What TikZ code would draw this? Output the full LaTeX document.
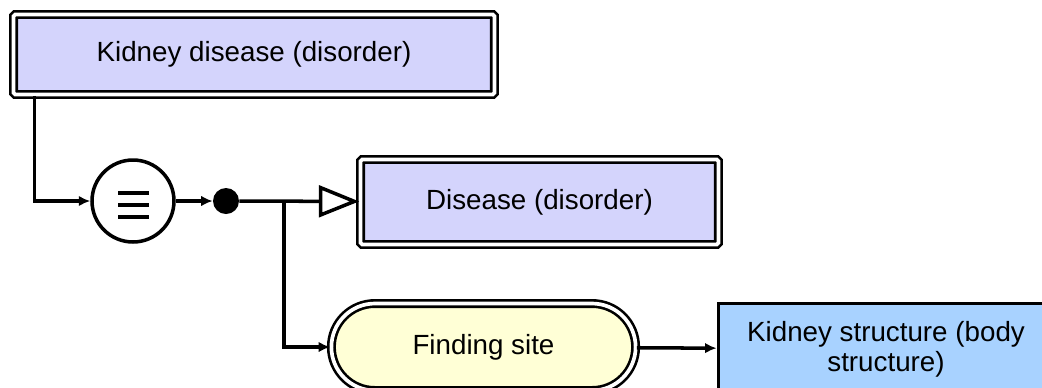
\documentclass[tikz,border=0pt]{standalone}
\usepackage{fontspec}
\setmainfont{Liberation Sans}
\usepackage{xcolor}
\usetikzlibrary{arrows.meta,shapes.misc}
\definecolor{defined}{HTML}{D4D4FC}
\definecolor{attrib}{HTML}{FFFFD6}
\definecolor{primitive}{HTML}{A8D2FF}
\tikzset{
  concept/.style={rectangle, draw, fill=defined, double, double distance=2.1pt,
    line width=1.5pt, rounded corners=1pt, font=\fontsize{15.8}{18}\selectfont},
  prim/.style={rectangle, draw, fill=primitive, line width=1.7pt, align=center,
    font=\fontsize{15.8}{17}\selectfont},
  attr/.style={rounded rectangle, draw, fill=attrib, double, double distance=2.1pt,
    line width=1.5pt, font=\fontsize{15.8}{18}\selectfont},
  arr/.style={line width=2pt, -{Latex[length=6.5pt,width=6pt]}},
  isa/.style={line width=2pt, -{Triangle[open,fill=white,length=23pt,width=18pt]}}
}
\begin{document}
\begin{tikzpicture}[x=0.02cm, y=-0.02cm]
      \clip (0,0) rectangle (1042,387);
      \node[concept, minimum width=9.62cm, minimum height=1.6cm] (kd) at (254,54.5) {Kidney disease (disorder)};
      \node[circle, draw, line width=2pt, minimum size=1.64cm] (eq) at (133,201) {};
      \foreach \dy in {-8,4,16}
        \draw[line width=2.8pt] ([shift={(-15,\dy)}]eq.center) -- ++(31,0);
      \node[circle, fill, minimum size=0.52cm, inner sep=0pt] (dot) at (226,201) {};
      \node[concept, minimum width=7.16cm, minimum height=1.7cm] (dis) at (539.5,202) {Disease (disorder)};
      \coordinate (j) at (284,201);
      \node[attr, minimum width=6.32cm, minimum height=1.74cm] (fs) at (483.5,347) {Finding site};
      \node[prim, minimum width=6.72cm, minimum height=1.84cm] (ks) at (886,349) {Kidney structure (body\\structure)};

      \draw[arr] ([xshift=0.45cm]kd.south west) |- (eq);
      \draw[arr] (eq) -- (dot);
      \draw[isa] (dot) -- (dis);
      \draw[arr] (j) |- (fs);
      \draw[arr] (fs) -- (ks);
    \end{tikzpicture}
\end{document}
